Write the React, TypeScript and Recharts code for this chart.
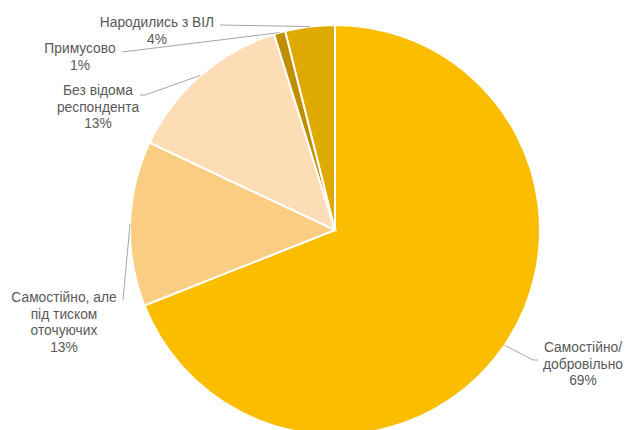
import React from "react";
import { PieChart, Pie, Cell } from "recharts";

// ── data ─────────────────────────────────────────────
const categories = [
  "Самостійно/ добровільно",
  "Самостійно, але під тиском оточуючих",
  "Без відома респондента",
  "Примусово",
  "Народились з ВІЛ",
];
const shares = [69.0, 13.0, 13.2, 0.9, 3.9];
const percentLabels = ["69%", "13%", "13%", "1%", "4%"];
const labelLines = [
  ["Самостійно/", "добровільно"],
  ["Самостійно, але", "під тиском", "оточуючих"],
  ["Без відома", "респондента"],
  ["Примусово"],
  ["Народились з ВІЛ"],
];
const colors = ["#FABD00", "#FBCD83", "#FDDDB6", "#BF8F00", "#DEA900"];

// ── label layout (offsets from pie centre) ───────────
const CX = 335;
const CY = 230;
const R = 205;
const labelLayout = [
  { x: 248, y: 122, bend: [[198, 130], [203, 130]] },
  { x: -271, y: 72, bend: [[-212, 70]] },
  { x: -237, y: -135, bend: [[-190, -135], [-195, -135]] },
  { x: -255, y: -177, bend: [[-213, -178]] },
  { x: -178, y: -203, bend: [[-115, -205]] },
];

const data = categories.map((name, i) => ({ name, value: shares[i] }));

const RAD = Math.PI / 180;
const LINE_H = 16.5;

function renderLabel(props: any) {
  const { cx, cy, midAngle, outerRadius, index } = props;
  const sx = cx + outerRadius * Math.cos(-midAngle * RAD);
  const sy = cy + outerRadius * Math.sin(-midAngle * RAD);
  const lay = labelLayout[index];
  const pts = [[sx, sy], ...lay.bend.map(([dx, dy]) => [cx + dx, cy + dy])];
  const lines = [...labelLines[index], percentLabels[index]];
  return (
    <g key={`lbl-${index}`}>
      <polyline
        points={pts.map((p) => p.join(",")).join(" ")}
        fill="none"
        stroke="#A6A6A6"
        strokeWidth={1}
      />
      <text
        x={cx + lay.x}
        y={cy + lay.y}
        textAnchor="middle"
        fontFamily="'Liberation Sans', Arial, sans-serif"
        fontSize={13.8}
        fill="#595959"
      >
        {lines.map((l, j) => (
          <tspan key={j} x={cx + lay.x} dy={j === 0 ? 0 : LINE_H}>
            {l}
          </tspan>
        ))}
      </text>
    </g>
  );
}

export default function App() {
  return (
    <div style={{ position: "absolute", left: 0, top: 0, width: 629, height: 430, background: "#fff", overflow: "hidden" }}>
      <PieChart width={629} height={430} margin={{ top: 0, right: 0, bottom: 0, left: 0 }}>
        <Pie
          data={data}
          dataKey="value"
          nameKey="name"
          cx={CX}
          cy={CY}
          outerRadius={R}
          startAngle={90}
          endAngle={-270}
          stroke="#FFFFFF"
          strokeWidth={2}
          label={renderLabel}
          labelLine={false}
          isAnimationActive={false}
        >
          {data.map((d, i) => (
            <Cell key={d.name} fill={colors[i]} />
          ))}
        </Pie>
      </PieChart>
    </div>
  );
}
